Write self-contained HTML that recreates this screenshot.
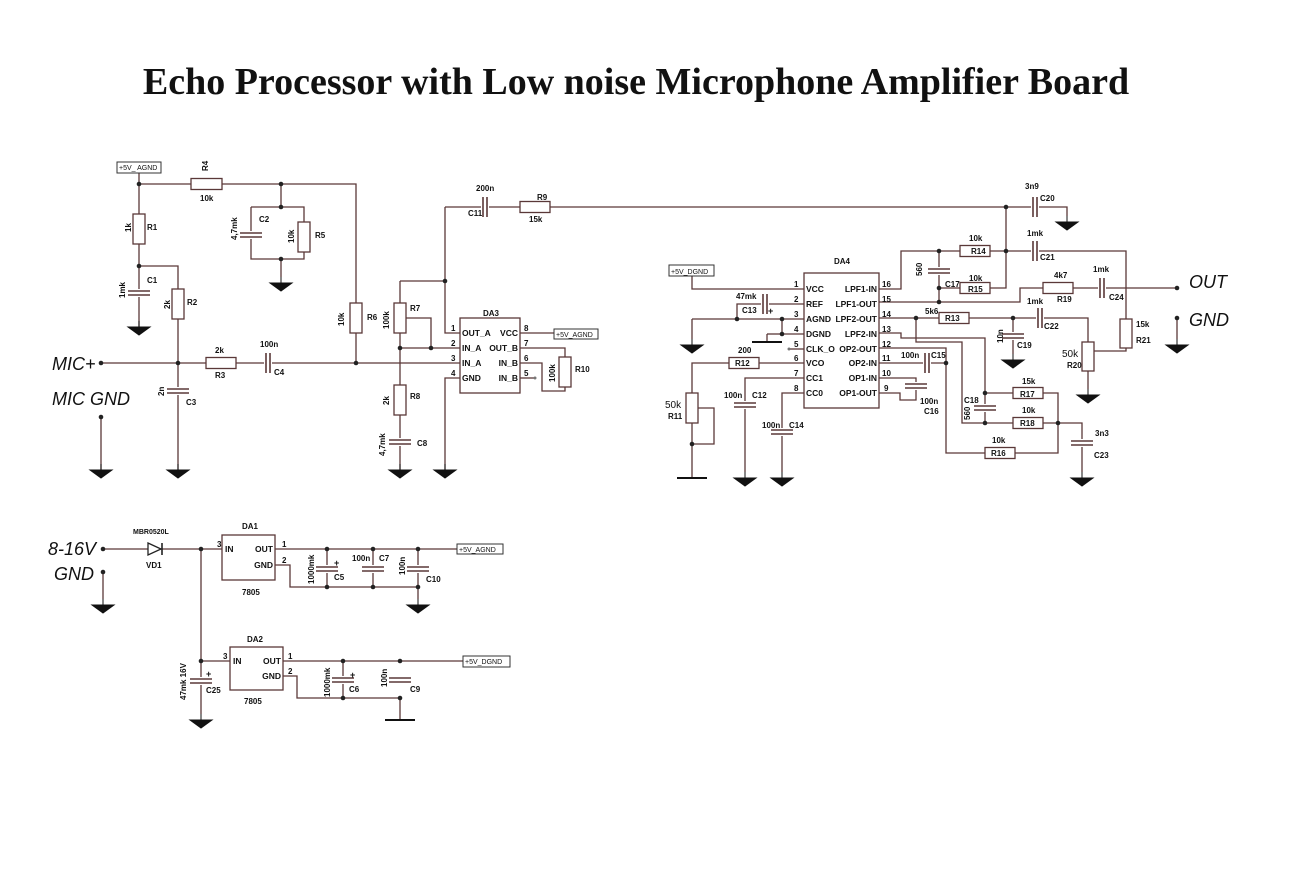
<!DOCTYPE html>
<html><head><meta charset="utf-8"><style>
body{margin:0;background:#fff;}
svg{display:block;}
text{font-family:"Liberation Sans",sans-serif;font-size:8px;font-weight:bold;fill:#111;}
.big{font-size:18px;font-style:italic;font-weight:normal;}
.pin{font-size:8.5px;}
</style></head><body>
<svg id="s" width="1290" height="874" viewBox="0 0 1290 874" xmlns="http://www.w3.org/2000/svg">
<text x="636" y="94" text-anchor="middle" style="font-family:'Liberation Serif',serif;font-size:38px;font-weight:bold">Echo Processor with Low noise Microphone Amplifier Board</text>
<g id="w" fill="none" stroke="#5a3838" stroke-width="1.3"></g>
<g id="c"></g>
<g id="t">
<rect x="117" y="162" width="44" height="11" fill="#fff" stroke="#333"/><text x="119" y="170" style="font-size:7px;font-weight:normal">+5V_ AGND</text>
<text x="208" y="171" transform="rotate(-90 208 171)">R4</text><text x="200" y="201">10k</text>
<text x="131" y="232" transform="rotate(-90 131 232)">1k</text><text x="147" y="230">R1</text>
<text x="259" y="222">C2</text><text x="237" y="240" transform="rotate(-90 237 240)">4,7mk</text>
<text x="294" y="243" transform="rotate(-90 294 243)">10k</text><text x="315" y="238">R5</text>
<text x="147" y="283">C1</text><text x="125" y="298" transform="rotate(-90 125 298)">1mk</text>
<text x="170" y="309" transform="rotate(-90 170 309)">2k</text><text x="187" y="305">R2</text>
<text x="344" y="326" transform="rotate(-90 344 326)">10k</text><text x="367" y="320">R6</text>
<text x="215" y="353">2k</text><text x="215" y="378">R3</text>
<text x="260" y="347">100n</text><text x="274" y="375">C4</text>
<text x="164" y="396" transform="rotate(-90 164 396)">2n</text><text x="186" y="405">C3</text>
<text x="52" y="370" class="big">MIC+</text><text x="52" y="405" class="big">MIC GND</text>
<text x="389" y="329" transform="rotate(-90 389 329)">100k</text><text x="410" y="311">R7</text>
<text x="389" y="405" transform="rotate(-90 389 405)">2k</text><text x="410" y="399">R8</text>
<text x="385" y="456" transform="rotate(-90 385 456)">4,7mk</text><text x="417" y="446">C8</text>
<text x="476" y="191">200n</text><text x="468" y="216">C11</text>
<text x="537" y="200">R9</text><text x="529" y="222">15k</text>
<text x="483" y="316">DA3</text>
<text x="462" y="336" class="pin">OUT_A</text><text x="462" y="351" class="pin">IN_A</text><text x="462" y="366" class="pin">IN_A</text><text x="462" y="381" class="pin">GND</text>
<text x="518" y="336" class="pin" text-anchor="end">VCC</text><text x="518" y="351" class="pin" text-anchor="end">OUT_B</text><text x="518" y="366" class="pin" text-anchor="end">IN_B</text><text x="518" y="381" class="pin" text-anchor="end">IN_B</text>
<text x="451" y="331">1</text><text x="451" y="346">2</text><text x="451" y="361">3</text><text x="451" y="376">4</text>
<text x="524" y="331">8</text><text x="524" y="346">7</text><text x="524" y="361">6</text><text x="524" y="376">5</text>
<rect x="554" y="329" width="44" height="10" fill="#fff" stroke="#333"/><text x="556" y="337" style="font-size:7px;font-weight:normal">+5V_AGND</text>
<text x="555" y="382" transform="rotate(-90 555 382)">100k</text><text x="575" y="372">R10</text>
<rect x="669" y="265" width="45" height="11" fill="#fff" stroke="#333"/><text x="671" y="274" style="font-size:7px;font-weight:normal">+5V_DGND</text>
<text x="834" y="264">DA4</text>
<text x="806" y="292" class="pin">VCC</text><text x="806" y="307" class="pin">REF</text><text x="806" y="322" class="pin">AGND</text><text x="806" y="337" class="pin">DGND</text><text x="806" y="352" class="pin">CLK_O</text><text x="806" y="366" class="pin">VCO</text><text x="806" y="381" class="pin">CC1</text><text x="806" y="396" class="pin">CC0</text>
<text x="877" y="292" class="pin" text-anchor="end">LPF1-IN</text><text x="877" y="307" class="pin" text-anchor="end">LPF1-OUT</text><text x="877" y="322" class="pin" text-anchor="end">LPF2-OUT</text><text x="877" y="337" class="pin" text-anchor="end">LPF2-IN</text><text x="877" y="352" class="pin" text-anchor="end">OP2-OUT</text><text x="877" y="366" class="pin" text-anchor="end">OP2-IN</text><text x="877" y="381" class="pin" text-anchor="end">OP1-IN</text><text x="877" y="396" class="pin" text-anchor="end">OP1-OUT</text>
<text x="794" y="287">1</text><text x="794" y="302">2</text><text x="794" y="317">3</text><text x="794" y="332">4</text><text x="794" y="347">5</text><text x="794" y="361">6</text><text x="794" y="376">7</text><text x="794" y="391">8</text>
<text x="882" y="287">16</text><text x="882" y="302">15</text><text x="882" y="317">14</text><text x="882" y="332">13</text><text x="882" y="347">12</text><text x="882" y="361">11</text><text x="882" y="376">10</text><text x="884" y="391">9</text>
<text x="736" y="299">47mk</text><text x="742" y="313">C13</text><text x="768" y="314" style="font-size:9px">+</text>
<text x="738" y="353">200</text><text x="735" y="366">R12</text>
<text x="665" y="408" style="font-size:10px;font-weight:normal">50k</text><text x="668" y="419">R11</text>
<text x="724" y="398">100n</text><text x="752" y="398">C12</text>
<text x="762" y="428">100n</text><text x="789" y="428">C14</text>
<text x="901" y="358">100n</text><text x="931" y="358">C15</text>
<text x="920" y="404">100n</text><text x="924" y="414">C16</text>
<text x="1025" y="189">3n9</text><text x="1040" y="201">C20</text>
<text x="969" y="241">10k</text><text x="971" y="254">R14</text>
<text x="1027" y="236">1mk</text><text x="1040" y="260">C21</text>
<text x="922" y="276" transform="rotate(-90 922 276)">560</text><text x="945" y="287">C17</text>
<text x="969" y="281">10k</text><text x="968" y="292">R15</text>
<text x="1054" y="278">4k7</text><text x="1057" y="302">R19</text>
<text x="1093" y="272">1mk</text><text x="1109" y="300">C24</text>
<text x="1189" y="288" class="big">OUT</text><text x="1189" y="326" class="big">GND</text>
<text x="925" y="314">5k6</text><text x="945" y="321">R13</text>
<text x="1027" y="304">1mk</text><text x="1044" y="329">C22</text>
<text x="1003" y="343" transform="rotate(-90 1003 343)">10n</text><text x="1017" y="348">C19</text>
<text x="1136" y="327">15k</text><text x="1136" y="343">R21</text>
<text x="1062" y="357" style="font-size:10px;font-weight:normal">50k</text><text x="1067" y="368">R20</text>
<text x="964" y="403">C18</text><text x="970" y="420" transform="rotate(-90 970 420)">560</text>
<text x="1022" y="384">15k</text><text x="1020" y="397">R17</text>
<text x="1022" y="413">10k</text><text x="1020" y="426">R18</text>
<text x="1095" y="436">3n3</text><text x="1094" y="458">C23</text>
<text x="992" y="443">10k</text><text x="991" y="456">R16</text>
<text x="48" y="555" class="big">8-16V</text><text x="54" y="580" class="big">GND</text>
<text x="133" y="534" style="font-size:7px">MBR0520L</text><text x="146" y="568">VD1</text>
<text x="242" y="529">DA1</text><text x="225" y="552" class="pin">IN</text><text x="273" y="552" class="pin" text-anchor="end">OUT</text><text x="273" y="568" class="pin" text-anchor="end">GND</text>
<text x="217" y="547">3</text><text x="282" y="547">1</text><text x="282" y="563">2</text><text x="242" y="595">7805</text>
<text x="314" y="584" transform="rotate(-90 314 584)">1000mk</text><text x="334" y="566" style="font-size:9px">+</text><text x="334" y="580">C5</text>
<text x="352" y="561">100n</text><text x="379" y="561">C7</text>
<text x="405" y="575" transform="rotate(-90 405 575)">100n</text><text x="426" y="582">C10</text>
<rect x="457" y="544" width="46" height="10" fill="#fff" stroke="#333"/><text x="459" y="552" style="font-size:7px;font-weight:normal">+5V_AGND</text>
<text x="247" y="642">DA2</text><text x="233" y="664" class="pin">IN</text><text x="281" y="664" class="pin" text-anchor="end">OUT</text><text x="281" y="679" class="pin" text-anchor="end">GND</text>
<text x="223" y="659">3</text><text x="288" y="659">1</text><text x="288" y="674">2</text><text x="244" y="704">7805</text>
<text x="186" y="700" transform="rotate(-90 186 700)">47mk 16V</text><text x="206" y="677" style="font-size:9px">+</text><text x="206" y="693">C25</text>
<text x="330" y="697" transform="rotate(-90 330 697)">1000mk</text><text x="350" y="678" style="font-size:9px">+</text><text x="349" y="692">C6</text>
<text x="387" y="687" transform="rotate(-90 387 687)">100n</text><text x="410" y="692">C9</text>
<rect x="463" y="656" width="47" height="11" fill="#fff" stroke="#333"/><text x="465" y="664" style="font-size:7px;font-weight:normal">+5V_DGND</text>
</g>
</svg>
<script>
var W=document.getElementById('w'),C=document.getElementById('c'),NS='http://www.w3.org/2000/svg';
function el(p,n,a){var e=document.createElementNS(NS,n);for(var k in a)e.setAttribute(k,a[k]);p.appendChild(e);return e;}
function P(s){el(W,'polyline',{points:s});}
var col='#5a3838';
function dot(x,y){el(C,'circle',{cx:x,cy:y,r:2.3,fill:'#222'});}
function Rv(x,y1,y2){el(C,'rect',{x:x-6,y:y1,width:12,height:y2-y1,fill:'#fff',stroke:col,'stroke-width':1.3});}
function Rh(x1,x2,y){el(C,'rect',{x:x1,y:y-5.5,width:x2-x1,height:11,fill:'#fff',stroke:col,'stroke-width':1.3});}
function Cv(x,y){el(C,'rect',{x:x-12,y:y-4,width:24,height:8,fill:'#fff'});el(C,'path',{d:'M'+(x-11)+' '+(y-2)+'h22M'+(x-11)+' '+(y+2)+'h22',stroke:col,'stroke-width':1.6});}
function Ch(x,y){el(C,'rect',{x:x-4,y:y-11,width:8,height:22,fill:'#fff'});el(C,'path',{d:'M'+(x-2)+' '+(y-10)+'v20M'+(x+2)+' '+(y-10)+'v20',stroke:col,'stroke-width':1.6});}
function G(x,y){el(C,'path',{d:'M'+x+' '+(y-6)+'V'+y+'M'+(x-11)+' '+y+'h22l-11 8z',fill:'#111',stroke:'#111','stroke-width':1});}
function Gf(x,y){el(C,'path',{d:'M'+(x-15)+' '+y+'h30',stroke:'#111','stroke-width':2});}
function box(x,y,w,h){el(C,'rect',{x:x,y:y,width:w,height:h,fill:'#fff',stroke:col,'stroke-width':1.3});}
P('139,173 139,184 356,184 356,363');Rh(191,222,184);dot(139,184);dot(281,184);
P('281,184 281,207');P('251,207 304,207 304,259 251,259 251,207');P('281,259 281,277');G(281,283);dot(281,207);dot(281,259);
Cv(251,235);Rv(304,222,252);
P('139,184 139,327');Rv(139,214,244);dot(139,266);Cv(139,293);G(139,327);
P('139,266 178,266 178,470');Rv(178,289,319);Cv(178,391);G(178,470);
P('101,363 445,363 460,363');dot(101,363);dot(178,363);dot(356,363);Rh(206,236,363);Ch(268,363);Rv(356,303,333);
dot(101,417);P('101,417 101,470');G(101,470);
P('445,207 1067,207 1067,216');Ch(485,207);Rh(520,550,207);G(1067,222);
P('445,207 445,333 460,333');dot(445,281);P('400,281 445,281');
P('400,281 400,470');Rv(400,303,333);P('406,318 431,318 431,348');P('400,348 460,348');dot(400,348);dot(431,348);
Rv(400,385,415);Cv(400,442);G(400,470);
P('460,378 445,378 445,470');G(445,470);
box(460,318,60,75);
P('520,333 554,333');P('520,348 565,348 565,357');P('520,363 542,363 542,391 565,391 565,387');P('520,378 535,378');el(C,'circle',{cx:535,cy:378,r:1.5,fill:'#777'});
Rv(565,357,387);
box(804,273,75,135);
P('692,276 692,289 804,289');
P('767,304 804,304');Ch(765,304);P('763,304 737,304 737,319');
P('692,319 804,319');P('692,319 692,339');G(692,345);dot(737,319);dot(782,319);
P('782,319 782,334 804,334');dot(782,334);P('767,334 767,342');Gf(767,342);P('782,334 767,334');
P('789,349 804,349');el(C,'circle',{cx:789,cy:349,r:1.5,fill:'#777'});
P('804,363 692,363 692,444');Rh(729,759,363);Rv(692,393,423);P('698,408 714,408 714,444 692,444');dot(692,444);P('692,444 692,478');Gf(692,478);
P('804,378 745,378 745,472');Cv(745,405);G(745,478);
P('804,393 782,393 782,472');Cv(782,432);G(782,478);
P('879,289 901,289 901,251 1126,251 1126,351 1094,351');P('1006,207 1006,288 939,288');dot(1006,207);dot(1006,251);dot(939,251);
Rh(960,990,251);Ch(1035,251);Rh(960,990,288);Ch(1035,207);
P('939,251 939,302');Cv(939,271);dot(939,288);dot(939,302);
P('879,302 1020,302 1020,288 1177,288');Rh(1043,1073,288);Ch(1102,288);dot(1177,288);
Rv(1126,319,348);
dot(1177,318);P('1177,318 1177,339');G(1177,345);
P('879,318 1088,318 1088,389');dot(916,318);Rh(939,969,318);dot(1013,318);Ch(1040,318);Rv(1088,342,371);G(1088,395);
P('1013,318 1013,354');Cv(1013,336);G(1013,360);
P('879,333 901,333 901,338 985,338 985,423');
P('916,318 916,342 962,342 962,423 1058,423 1058,393 985,393');dot(985,393);dot(985,423);Cv(985,408);
Rh(1013,1043,393);Rh(1013,1043,423);dot(1058,423);
P('1058,423 1082,423 1082,472');Cv(1082,443);G(1082,478);
P('879,348 946,348 946,453 1058,453 1058,423');Rh(985,1015,453);dot(946,363);
P('879,363 946,363');Ch(927,363);
P('879,378 916,378 916,383');Cv(916,386);P('879,393 900,393 900,400 916,400 916,389');
P('103,549 222,549');dot(103,549);el(C,'path',{d:'M148 543 L161 549 L148 555 Z',fill:'#fff',stroke:'#222','stroke-width':1.3});el(C,'path',{d:'M162 543V555',stroke:'#222','stroke-width':1.6});
dot(103,572);P('103,572 103,599');G(103,605);
box(222,535,53,45);
P('275,549 457,549');dot(327,549);dot(373,549);dot(418,549);
P('275,565 290,565 290,587 418,587 418,599');dot(327,587);dot(373,587);dot(418,587);G(418,605);
P('327,549 327,587');P('373,549 373,587');P('418,549 418,587');Cv(327,569);Cv(373,569);Cv(418,569);
P('201,549 201,714');dot(201,549);dot(201,661);P('201,661 230,661');Cv(201,681);G(201,720);
box(230,647,53,43);
P('283,661 463,661');dot(343,661);dot(400,661);
P('283,676 297,676 297,698 400,698 400,720');dot(343,698);dot(400,698);Gf(400,720);
P('343,661 343,698');Cv(343,680);Cv(400,680);
</script>
</body></html>
